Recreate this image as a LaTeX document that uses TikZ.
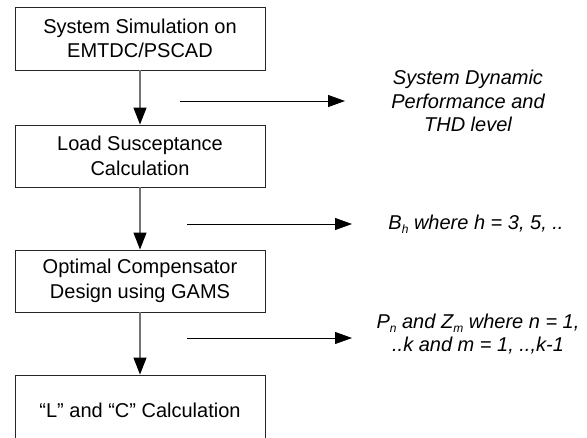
\documentclass[tikz,border=0pt]{standalone}
\usepackage{fontspec}
\setmainfont{Liberation Sans}
\usetikzlibrary{arrows.meta}
\newcommand\subtx[1]{\raisebox{-0.2em}{\fontsize{12}{12}\selectfont #1}}
\begin{document}
\begin{tikzpicture}[x=1pt,y=-1pt,
  box/.style={draw=black!85, line width=0.9pt, minimum width=250pt, inner sep=0pt, align=center, font=\fontsize{20}{24.5}\selectfont},
  vflow/.style={draw=black!55, line width=1.2pt, -{Triangle[length=17pt,width=13pt,color=black]}},
  hflow/.style={draw=black, line width=0.9pt, -{Triangle[length=17pt,width=12pt]}},
  note/.style={align=center, font=\fontsize{20}{23.5}\selectfont\itshape}]
\clip (0,0) rectangle (587,437);
\node[box, minimum height=63pt] (b1) at (140,38.5) {System Simulation on\\EMTDC/PSCAD};
\node[box, minimum height=62pt] (b2) at (140,156) {Load Susceptance\\Calculation};
\node[box, minimum height=62pt] (b3) at (140,281) {Optimal Compensator\\Design using GAMS};
\node[box, minimum height=70pt] (b4) at (140,410) {“L” and “C” Calculation};
\draw[vflow] (b1.south) -- (b2.north);
\draw[vflow] (b2.south) -- (b3.north);
\draw[vflow] (b3.south) -- (b4.north);
\coordinate (h1a) at (180,101); \coordinate (h1b) at (345,101);
\coordinate (h2a) at (187,224); \coordinate (h2b) at (352,224);
\coordinate (h3a) at (187,338); \coordinate (h3b) at (352,338);
\draw[hflow] (h1a) -- (h1b);
\draw[hflow] (h2a) -- (h2b);
\draw[hflow] (h3a) -- (h3b);
\node[note] (n1) at (468,101) {System Dynamic\\Performance and\\THD level};
\node[note] (n2) at (476,224) {B\subtx{h} where h = 3, 5, ..};
\node[note] (n3) at (478,334) {P\subtx{n} and Z\subtx{m} where n = 1,\\..k and m = 1, ..,k-1};
\end{tikzpicture}
\end{document}
